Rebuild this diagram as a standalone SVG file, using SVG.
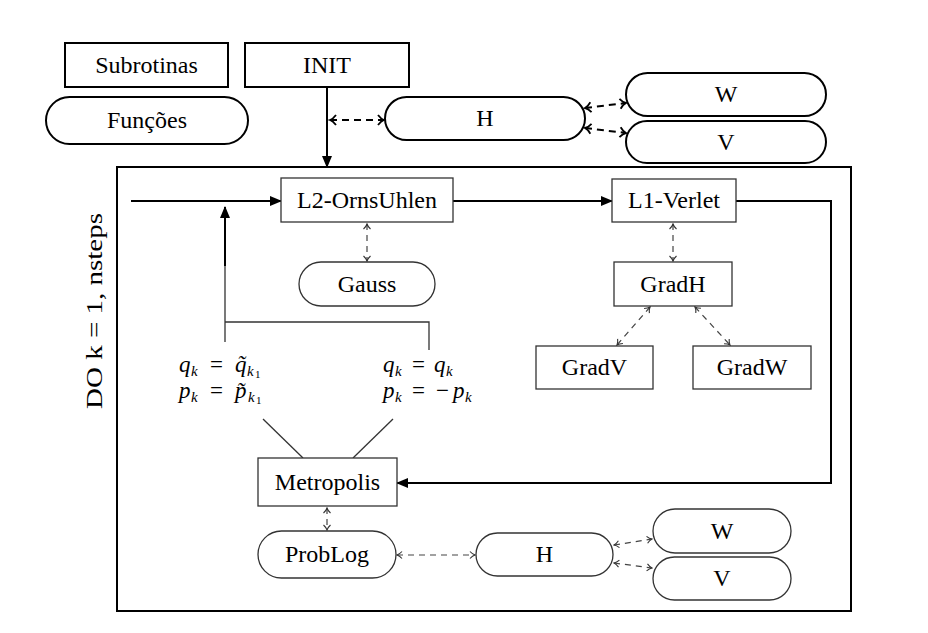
<svg xmlns="http://www.w3.org/2000/svg" width="928" height="633" viewBox="0 0 928 633">
<style>
  text { font-family: "Liberation Serif", "Times New Roman", serif; font-size: 24px; fill: #000; }
  .c { text-anchor: middle; }
  .m { font-size: 23px; }
  .it { font-style: italic; }
  .sub { font-style: italic; font-size: 15px; }
  .sub2 { font-size: 11px; }
  .thick { fill: #fff; stroke: #000; stroke-width: 2; }
  .thin { fill: #fff; stroke: #333; stroke-width: 1.3; }
  .flow { fill: none; stroke: #000; stroke-width: 2; }
  .line { fill: none; stroke: #333; stroke-width: 1.3; }
  .dthick { fill: none; stroke: #000; stroke-width: 2; stroke-dasharray: 7 5; }
  .dthin { fill: none; stroke: #444; stroke-width: 1.2; stroke-dasharray: 6 5; }
</style>
<defs>
  <marker id="tri" viewBox="0 0 12 10" refX="11" refY="5" markerWidth="12" markerHeight="10" markerUnits="userSpaceOnUse" orient="auto-start-reverse">
    <path d="M0,0 L12,5 L0,10 z" fill="#000"/>
  </marker>
  <marker id="chevT" viewBox="0 0 10 12" refX="8" refY="6" markerWidth="10" markerHeight="12" markerUnits="userSpaceOnUse" orient="auto-start-reverse">
    <path d="M2,1 Q5,5 8,6 Q5,7 2,11" fill="none" stroke="#000" stroke-width="1.8"/>
  </marker>
  <marker id="chev" viewBox="0 0 8 10" refX="7" refY="5" markerWidth="8" markerHeight="10" markerUnits="userSpaceOnUse" orient="auto-start-reverse">
    <path d="M2,1.5 Q4.5,4.2 7,5 Q4.5,5.8 2,8.5" fill="none" stroke="#333" stroke-width="1.1"/>
  </marker>
</defs>

<!-- outer loop frame -->
<rect id="loop" x="117" y="167" width="734" height="444" fill="none" stroke="#000" stroke-width="2"/>
<text transform="translate(102,311) rotate(-90)" class="c" textLength="196" lengthAdjust="spacingAndGlyphs">DO k = 1, nsteps</text>

<g id="connectors">
  <line class="flow" x1="327" y1="87" x2="327" y2="167" marker-end="url(#tri)"/>
  <line class="dthick" x1="330" y1="120" x2="384" y2="120" marker-start="url(#chevT)" marker-end="url(#chevT)"/>
  <line class="dthick" x1="585" y1="108" x2="626" y2="103" marker-start="url(#chevT)" marker-end="url(#chevT)"/>
  <line class="dthick" x1="585" y1="128" x2="626" y2="133" marker-start="url(#chevT)" marker-end="url(#chevT)"/>

  <line class="flow" x1="131" y1="201" x2="281" y2="201" marker-end="url(#tri)"/>
  <line class="flow" x1="453" y1="201" x2="612" y2="201" marker-end="url(#tri)"/>
  <path class="flow" d="M736,201 H831 V483 H397" marker-end="url(#tri)"/>
  <line class="flow" x1="225" y1="266" x2="225" y2="207" marker-end="url(#tri)"/>
  <path class="line" d="M225,266 V342 M225,322 H429 V350"/>
  <line class="line" x1="263" y1="419" x2="303" y2="458"/>
  <line class="line" x1="393" y1="419" x2="353" y2="458"/>

  <line class="dthin" x1="367" y1="224" x2="367" y2="261" marker-start="url(#chev)" marker-end="url(#chev)"/>
  <line class="dthin" x1="673" y1="224" x2="673" y2="261" marker-start="url(#chev)" marker-end="url(#chev)"/>
  <line class="dthin" x1="650" y1="307" x2="617" y2="345" marker-start="url(#chev)" marker-end="url(#chev)"/>
  <line class="dthin" x1="695" y1="307" x2="730" y2="345" marker-start="url(#chev)" marker-end="url(#chev)"/>
  <line class="dthin" x1="327" y1="508" x2="327" y2="530" marker-start="url(#chev)" marker-end="url(#chev)"/>
  <line class="dthin" x1="397" y1="555" x2="475" y2="555" marker-start="url(#chev)" marker-end="url(#chev)"/>
  <line class="dthin" x1="614" y1="545" x2="652" y2="539" marker-start="url(#chev)" marker-end="url(#chev)"/>
  <line class="dthin" x1="614" y1="563" x2="652" y2="568" marker-start="url(#chev)" marker-end="url(#chev)"/>
</g>

<g id="subrotinas"><rect class="thick" x="65" y="43" width="163" height="44"/><text class="c" x="146.5" y="73">Subrotinas</text></g>
<g id="init"><rect class="thick" x="245" y="43" width="164" height="44"/><text class="c" x="327" y="73">INIT</text></g>
<g id="funcoes"><rect class="thick" x="46" y="97" width="202" height="47" rx="23.5"/><text class="c" x="147" y="128">Funções</text></g>
<g id="h-top"><rect class="thick" x="385" y="97" width="200" height="43" rx="21.5"/><text class="c" x="485" y="126">H</text></g>
<g id="w-top"><rect class="thick" x="626" y="73" width="200" height="43" rx="21.5"/><text class="c" x="726" y="102">W</text></g>
<g id="v-top"><rect class="thick" x="626" y="121" width="200" height="42" rx="21"/><text class="c" x="726" y="150">V</text></g>

<g id="l2"><rect class="thin" x="281" y="178" width="172" height="44"/><text class="c" x="367" y="208">L2-OrnsUhlen</text></g>
<g id="l1"><rect class="thin" x="612" y="179" width="124" height="43"/><text class="c" x="674" y="208">L1-Verlet</text></g>
<g id="gauss"><rect class="thin" x="299" y="262" width="136" height="44" rx="22"/><text class="c" x="367" y="292">Gauss</text></g>
<g id="gradh"><rect class="thin" x="614" y="262" width="118" height="44"/><text class="c" x="673" y="292">GradH</text></g>
<g id="gradv"><rect class="thin" x="536" y="346" width="117" height="43"/><text class="c" x="594.5" y="375">GradV</text></g>
<g id="gradw"><rect class="thin" x="693" y="346" width="118" height="43"/><text class="c" x="752" y="375">GradW</text></g>

<g id="accept">
  <text class="m" y="372"><tspan class="it" x="179">q</tspan><tspan class="sub" x="191" y="376">k</tspan><tspan x="210" y="372">=</tspan><tspan class="it" x="235">q̃</tspan><tspan class="sub" x="247" y="376">k</tspan><tspan class="sub2" x="255" y="378">1</tspan></text>
  <text class="m" y="398"><tspan class="it" x="179">p</tspan><tspan class="sub" x="191" y="402">k</tspan><tspan x="210" y="398">=</tspan><tspan class="it" x="235">p̃</tspan><tspan class="sub" x="248" y="402">k</tspan><tspan class="sub2" x="256" y="404">1</tspan></text>
</g>
<g id="reject">
  <text class="m" y="372"><tspan class="it" x="383">q</tspan><tspan class="sub" x="395" y="376">k</tspan><tspan x="412" y="372">=</tspan><tspan class="it" x="434">q</tspan><tspan class="sub" x="446" y="376">k</tspan></text>
  <text class="m" y="398"><tspan class="it" x="383">p</tspan><tspan class="sub" x="395" y="402">k</tspan><tspan x="412" y="398">=</tspan><tspan x="436">−</tspan><tspan class="it" x="453">p</tspan><tspan class="sub" x="465" y="402">k</tspan></text>
</g>

<g id="metropolis"><rect class="thin" x="258" y="458" width="139" height="48"/><text class="c" x="327.5" y="490">Metropolis</text></g>
<g id="problog"><rect class="thin" x="258" y="531" width="138" height="47" rx="23.5"/><text class="c" x="327" y="562">ProbLog</text></g>
<g id="h-bot"><rect class="thin" x="476" y="533" width="137" height="43" rx="21.5"/><text class="c" x="544.5" y="562">H</text></g>
<g id="w-bot"><rect class="thin" x="653" y="509" width="138" height="44" rx="22"/><text class="c" x="722" y="539">W</text></g>
<g id="v-bot"><rect class="thin" x="653" y="557" width="138" height="43" rx="21.5"/><text class="c" x="722" y="586">V</text></g>
</svg>
